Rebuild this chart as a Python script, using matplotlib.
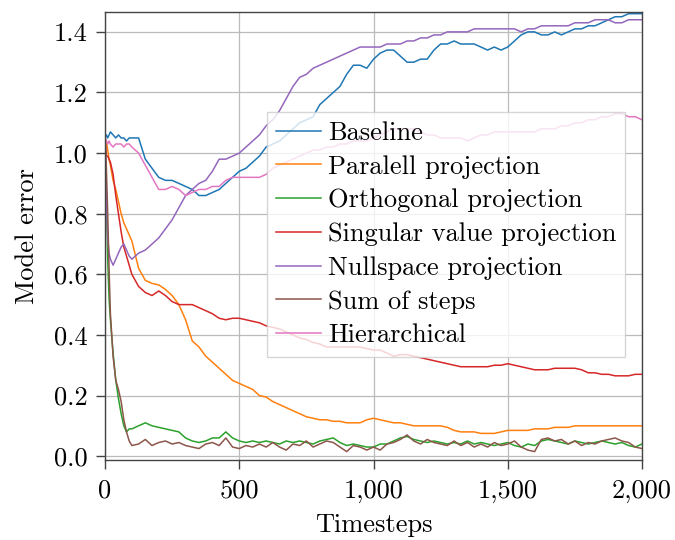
import matplotlib
matplotlib.use("Agg")
import matplotlib.pyplot as plt
from matplotlib.ticker import FuncFormatter

plt.rcParams['font.family'] = 'cmr10'
plt.rcParams['mathtext.fontset'] = 'cm'
plt.rcParams['axes.formatter.use_mathtext'] = True

# timesteps (fine near the start, then every 25)
t = [0, 5, 10, 15, 20, 30, 40, 50, 60, 70, 80, 90, 100] + list(range(125, 2001, 25))

baseline = [1.05, 1.06, 1.05, 1.06, 1.07, 1.06, 1.05, 1.06, 1.05, 1.05, 1.04, 1.05, 1.05,
            1.05, 0.98, 0.95, 0.92, 0.91, 0.91, 0.90, 0.89, 0.88, 0.86, 0.86, 0.87,
            0.88, 0.90, 0.92, 0.94, 0.95, 0.97, 0.99, 1.02, 1.03, 1.04, 1.06, 1.08,
            1.10, 1.11, 1.12, 1.16, 1.18, 1.20, 1.22, 1.26, 1.29, 1.29, 1.28, 1.31,
            1.33, 1.34, 1.34, 1.32, 1.30, 1.30, 1.31, 1.31, 1.34, 1.36, 1.36, 1.37,
            1.36, 1.36, 1.36, 1.35, 1.34, 1.35, 1.34, 1.35, 1.37, 1.39, 1.40, 1.40,
            1.39, 1.39, 1.40, 1.39, 1.40, 1.41, 1.41, 1.42, 1.42, 1.43, 1.44, 1.45,
            1.45, 1.46, 1.46, 1.46]

parallel = [1.05, 1.04, 1.01, 0.98, 0.96, 0.91, 0.88, 0.84, 0.80, 0.77, 0.75, 0.73, 0.71,
            0.62, 0.58, 0.57, 0.565, 0.55, 0.53, 0.50, 0.45, 0.38, 0.36, 0.33, 0.31,
            0.29, 0.27, 0.25, 0.24, 0.23, 0.22, 0.20, 0.195, 0.18, 0.17, 0.16, 0.15,
            0.14, 0.13, 0.125, 0.12, 0.12, 0.115, 0.115, 0.11, 0.11, 0.11, 0.12, 0.125,
            0.12, 0.115, 0.11, 0.11, 0.105, 0.10, 0.10, 0.10, 0.10, 0.10, 0.095, 0.085,
            0.08, 0.08, 0.08, 0.075, 0.075, 0.075, 0.08, 0.085, 0.085, 0.085, 0.085, 0.09,
            0.09, 0.09, 0.095, 0.095, 0.095, 0.10, 0.10, 0.10, 0.10, 0.10, 0.10, 0.10,
            0.10, 0.10, 0.10, 0.10]

orthogonal = [1.05, 0.85, 0.65, 0.52, 0.45, 0.34, 0.25, 0.19, 0.14, 0.10, 0.08, 0.09, 0.09,
              0.10, 0.11, 0.10, 0.095, 0.09, 0.085, 0.08, 0.06, 0.05, 0.045, 0.05, 0.06,
              0.06, 0.08, 0.06, 0.05, 0.045, 0.05, 0.045, 0.05, 0.045, 0.04, 0.05, 0.045,
              0.05, 0.045, 0.04, 0.05, 0.055, 0.06, 0.045, 0.035, 0.04, 0.035, 0.03, 0.03,
              0.04, 0.04, 0.05, 0.06, 0.065, 0.055, 0.05, 0.045, 0.05, 0.045, 0.04, 0.045,
              0.04, 0.05, 0.04, 0.045, 0.04, 0.035, 0.04, 0.045, 0.035, 0.03, 0.04, 0.035,
              0.05, 0.055, 0.05, 0.045, 0.04, 0.05, 0.045, 0.04, 0.045, 0.05, 0.045, 0.04,
              0.045, 0.035, 0.03, 0.04]

singular = [1.05, 0.99, 0.99, 0.98, 0.97, 0.93, 0.86, 0.80, 0.74, 0.69, 0.66, 0.63, 0.60,
            0.56, 0.54, 0.53, 0.545, 0.53, 0.51, 0.50, 0.50, 0.50, 0.49, 0.48, 0.47,
            0.455, 0.45, 0.455, 0.455, 0.45, 0.445, 0.44, 0.43, 0.425, 0.42, 0.41, 0.40,
            0.39, 0.385, 0.375, 0.37, 0.36, 0.36, 0.36, 0.36, 0.36, 0.36, 0.355, 0.35,
            0.35, 0.34, 0.33, 0.335, 0.335, 0.33, 0.325, 0.32, 0.315, 0.31, 0.305, 0.30,
            0.295, 0.295, 0.295, 0.295, 0.295, 0.30, 0.30, 0.305, 0.30, 0.295, 0.29, 0.285,
            0.285, 0.285, 0.29, 0.29, 0.29, 0.29, 0.285, 0.275, 0.275, 0.27, 0.27, 0.265,
            0.265, 0.265, 0.27, 0.27]

nullspace = [1.05, 0.85, 0.72, 0.67, 0.65, 0.63, 0.65, 0.67, 0.69, 0.70, 0.68, 0.66, 0.65,
             0.67, 0.68, 0.70, 0.72, 0.75, 0.78, 0.82, 0.86, 0.88, 0.90, 0.91, 0.94,
             0.98, 0.98, 0.99, 1.00, 1.02, 1.04, 1.06, 1.09, 1.11, 1.14, 1.18, 1.22,
             1.25, 1.26, 1.28, 1.29, 1.30, 1.31, 1.32, 1.33, 1.34, 1.35, 1.35, 1.35,
             1.35, 1.36, 1.36, 1.36, 1.37, 1.37, 1.38, 1.38, 1.39, 1.39, 1.40, 1.40,
             1.40, 1.40, 1.41, 1.41, 1.41, 1.41, 1.41, 1.41, 1.41, 1.40, 1.41, 1.41,
             1.42, 1.42, 1.42, 1.42, 1.42, 1.43, 1.43, 1.43, 1.44, 1.44, 1.44, 1.43,
             1.43, 1.44, 1.44, 1.44]

sum_steps = [1.05, 0.95, 0.80, 0.62, 0.47, 0.33, 0.25, 0.22, 0.18, 0.12, 0.08, 0.05, 0.035,
             0.04, 0.055, 0.035, 0.045, 0.05, 0.04, 0.045, 0.035, 0.03, 0.025, 0.04, 0.045,
             0.035, 0.06, 0.03, 0.025, 0.035, 0.03, 0.04, 0.03, 0.045, 0.03, 0.02, 0.04,
             0.035, 0.05, 0.03, 0.04, 0.05, 0.045, 0.03, 0.015, 0.035, 0.03, 0.02, 0.03,
             0.02, 0.04, 0.045, 0.055, 0.07, 0.05, 0.04, 0.055, 0.045, 0.04, 0.035, 0.05,
             0.035, 0.045, 0.03, 0.04, 0.03, 0.045, 0.035, 0.04, 0.05, 0.03, 0.02, 0.015,
             0.055, 0.06, 0.05, 0.055, 0.04, 0.05, 0.035, 0.045, 0.04, 0.05, 0.055, 0.06,
             0.05, 0.045, 0.03, 0.025]

hierarchical = [1.05, 1.04, 1.03, 1.04, 1.03, 1.02, 1.03, 1.03, 1.03, 1.02, 1.03, 1.03, 1.02,
                1.00, 0.96, 0.92, 0.88, 0.88, 0.89, 0.88, 0.86, 0.87, 0.88, 0.88, 0.89,
                0.89, 0.91, 0.92, 0.92, 0.92, 0.92, 0.92, 0.93, 0.95, 0.96, 0.97, 0.98,
                0.99, 1.00, 1.01, 1.01, 1.02, 1.02, 1.03, 1.03, 1.04, 1.04, 1.04, 1.05,
                1.06, 1.07, 1.08, 1.08, 1.08, 1.08, 1.07, 1.06, 1.06, 1.05, 1.05, 1.05,
                1.05, 1.04, 1.05, 1.06, 1.06, 1.07, 1.07, 1.07, 1.07, 1.07, 1.07, 1.07,
                1.08, 1.08, 1.08, 1.09, 1.09, 1.10, 1.10, 1.11, 1.11, 1.12, 1.12, 1.13,
                1.13, 1.12, 1.12, 1.11]

series = [
    ("Baseline", baseline),
    ("Paralell projection", parallel),
    ("Orthogonal projection", orthogonal),
    ("Singular value projection", singular),
    ("Nullspace projection", nullspace),
    ("Sum of steps", sum_steps),
    ("Hierarchical", hierarchical),
]

fig = plt.figure(figsize=(6.75, 5.4), dpi=100)
ax = fig.add_axes([0.1556, 0.148, 0.7955, 0.830])

for name, vals in series:
    ax.plot(t, vals, lw=1.1, label=name)

ax.set_xlim(0, 2000)
ax.set_ylim(-0.013, 1.466)
ax.set_xticks([0, 500, 1000, 1500, 2000])
ax.set_yticks([0.0, 0.2, 0.4, 0.6, 0.8, 1.0, 1.2, 1.4])
ax.xaxis.set_major_formatter(FuncFormatter(lambda v, _: f"{v:,.0f}"))
ax.yaxis.set_major_formatter(FuncFormatter(lambda v, _: f"{v:.1f}"))
ax.tick_params(labelsize=19, direction='out', length=6.5, width=1, color='#444444')
ax.tick_params(axis='x', pad=7)
ax.tick_params(axis='y', pad=6)
ax.grid(True, color='#bbbbbb', lw=0.9)
ax.set_axisbelow(True)
for s in ax.spines.values():
    s.set_color('#444444')
    s.set_linewidth(1.0)

ax.set_xlabel("Timesteps", fontsize=19, labelpad=8)
ax.set_ylabel("Model error", fontsize=19, labelpad=11)

leg = ax.legend(loc='upper left', bbox_to_anchor=(0.302, 0.777), borderaxespad=0,
                fontsize=19, frameon=True, fancybox=False, framealpha=0.8,
                edgecolor='#cccccc', handlelength=1.7, handletextpad=0.25,
                labelspacing=0.38, borderpad=0.35)
leg.get_frame().set_linewidth(1.0)

fig.savefig("out.png", dpi=100)
